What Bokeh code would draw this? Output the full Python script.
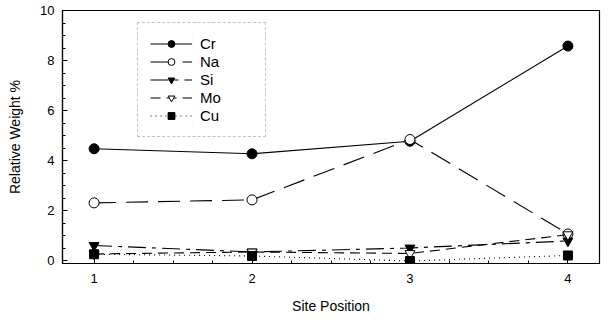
from bokeh.plotting import figure
from bokeh.embed import file_html
from bokeh.resources import INLINE
from bokeh.models import Legend, LegendItem, FixedTicker

sites = [1, 2, 3, 4]
cr = [4.48, 4.28, 4.78, 8.58]
na = [2.32, 2.44, 4.85, 1.08]
si = [0.62, 0.36, 0.52, 0.80]
mo = [0.28, 0.36, 0.30, 1.05]
cu = [0.27, 0.20, 0.00, 0.22]

p = figure(width=607, height=322, x_range=(0.8, 4.2), y_range=(-0.1, 10),
           output_backend="svg", toolbar_location=None,
           min_border_left=62, min_border_right=8, min_border_top=10, min_border_bottom=59)
p.grid.visible = False
p.outline_line_color = "black"
p.outline_line_width = 1.2
p.background_fill_color = "white"
p.border_fill_color = "white"

font = "Liberation Sans"
p.xaxis.ticker = FixedTicker(ticks=sites, minor_ticks=[1.25, 1.5, 1.75, 2.25, 2.5, 2.75, 3.25, 3.5, 3.75])
p.yaxis.ticker = FixedTicker(ticks=[0, 2, 4, 6, 8, 10], minor_ticks=[0.5, 1, 1.5, 2.5, 3, 3.5, 4.5, 5, 5.5, 6.5, 7, 7.5, 8.5, 9, 9.5])
for ax in (p.xaxis[0], p.yaxis[0]):
    ax.axis_line_width = 1.2
    ax.axis_line_color = "black"
    ax.major_tick_line_color = "black"
    ax.minor_tick_line_color = "black"
    ax.major_tick_in = 5
    ax.major_tick_out = 0
    ax.minor_tick_in = 3
    ax.minor_tick_out = 0
    ax.major_label_text_font = font
    ax.major_label_text_font_size = "13px"
    ax.major_label_text_color = "black"
    ax.axis_label_text_font = font
    ax.axis_label_text_font_size = "14px"
    ax.axis_label_text_color = "black"
    ax.axis_label_text_font_style = "normal"
p.xaxis.axis_label = "Site Position"
p.yaxis.axis_label = "Relative Weight %"
p.xaxis.major_label_standoff = 10
p.xaxis.axis_label_standoff = 12
p.yaxis.major_label_standoff = 8
p.yaxis.axis_label_standoff = 14

items = []
r1 = p.line(sites, cr, line_color="black", line_width=1.1)
m1 = p.scatter(sites, cr, marker="circle", size=10, fill_color="black", line_color="black")
items.append(LegendItem(label="Cr", renderers=[r1, m1]))

r2 = p.line(sites, na, line_color="black", line_width=1.1, line_dash="22 10")
m2 = p.scatter(sites, na, marker="circle", size=10, fill_color="white", line_color="black")
items.append(LegendItem(label="Na", renderers=[r2, m2]))

r3 = p.line(sites, si, line_color="black", line_width=1.1, line_dash="18 6 4 6")
m3 = p.scatter(sites, si, marker="inverted_triangle", size=10, fill_color="black", line_color="black")
items.append(LegendItem(label="Si", renderers=[r3, m3]))

r4 = p.line(sites, mo, line_color="black", line_width=1.1, line_dash="10 6")
m4 = p.scatter(sites, mo, marker="inverted_triangle", size=10, fill_color="white", line_color="black")
items.append(LegendItem(label="Mo", renderers=[r4, m4]))

r5 = p.line(sites, cu, line_color="black", line_width=1.1, line_dash="1 4")
m5 = p.scatter(sites, cu, marker="square", size=9, fill_color="black", line_color="black")
items.append(LegendItem(label="Cu", renderers=[r5, m5]))

legend = Legend(items=items, location=(75, 126))
legend.border_line_color = "#888888"
legend.border_line_dash = "4 2"
legend.border_line_width = 1
legend.label_text_font = font
legend.label_text_font_size = "15px"
legend.label_text_color = "black"
legend.glyph_width = 42
legend.glyph_height = 17
legend.label_height = 17
legend.label_width = 53
legend.spacing = 1
legend.padding = 12
legend.label_standoff = 8
legend.background_fill_alpha = 1
p.add_layout(legend, "center")

open("out.html", "w").write(file_html(p, INLINE))
